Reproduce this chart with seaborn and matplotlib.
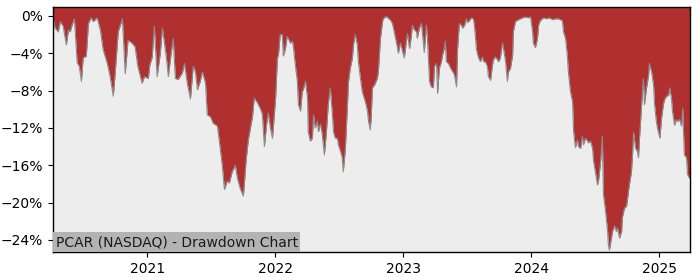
import matplotlib
matplotlib.use("Agg")
import matplotlib.pyplot as plt
import matplotlib.dates as mdates
from matplotlib.ticker import FuncFormatter
import seaborn as sns
import pandas as pd

dates_2020 = ["2020-04-08", "2020-04-13", "2020-04-22", "2020-04-28", "2020-05-06", "2020-05-15",
              "2020-05-21", "2020-05-26", "2020-06-01", "2020-06-07", "2020-06-15", "2020-06-21",
              "2020-06-27", "2020-07-02", "2020-07-11", "2020-07-17", "2020-07-25", "2020-07-31",
              "2020-08-11", "2020-08-20", "2020-08-28", "2020-09-09", "2020-09-17", "2020-09-26",
              "2020-10-02", "2020-10-10", "2020-10-22", "2020-10-30", "2020-11-07", "2020-11-18",
              "2020-11-27", "2020-12-05", "2020-12-17", "2020-12-24"]
dd_2020 = [-0.4, -1.3, -1.7, -0.6, -1.1, -3.1, -1.5, -1.7, -0.9, -0.3, -5.0, -5.4,
           -7.0, -4.5, -4.3, -0.8, -0.2, -0.6, -0.2, -1.5, -3.6, -5.1, -6.5, -8.6,
           -5.8, -1.7, -0.3, -6.2, -2.6, -2.9, -3.3, -5.4, -7.2, -6.5]

dates_2021 = ["2021-01-04", "2021-01-08", "2021-01-15", "2021-01-21", "2021-01-29", "2021-02-07",
              "2021-02-13", "2021-02-24", "2021-03-02", "2021-03-10", "2021-03-16", "2021-03-22",
              "2021-03-30", "2021-04-11", "2021-04-17", "2021-04-25", "2021-05-04", "2021-05-12",
              "2021-05-18", "2021-05-24", "2021-06-01", "2021-06-07", "2021-06-16", "2021-06-21",
              "2021-06-30", "2021-07-08", "2021-07-20", "2021-07-25", "2021-08-03", "2021-08-09",
              "2021-08-17", "2021-08-23", "2021-08-31", "2021-09-09", "2021-09-15", "2021-09-23",
              "2021-10-02", "2021-10-10", "2021-10-16", "2021-10-28", "2021-11-02", "2021-11-11",
              "2021-11-19", "2021-11-25", "2021-12-01", "2021-12-07", "2021-12-12", "2021-12-18",
              "2021-12-24"]
dd_2021 = [-6.7, -5.3, -4.4, -1.1, -6.5, -4.0, -1.3, -4.3, -6.5, -4.0, -2.4, -6.7,
           -6.8, -6.1, -5.1, -7.2, -8.9, -5.4, -5.9, -7.9, -7.0, -6.0, -7.2, -10.6,
           -10.8, -11.5, -11.8, -13.3, -16.1, -18.6, -17.7, -17.9, -16.7, -16.0, -17.4, -18.5,
           -19.3, -15.4, -13.3, -10.8, -8.8, -9.3, -9.9, -10.5, -14.0, -11.7, -10.4, -12.0,
           -13.1]

dates_2022 = ["2022-01-02", "2022-01-07", "2022-01-10", "2022-01-15", "2022-01-21", "2022-01-24",
              "2022-01-30", "2022-02-04", "2022-02-07", "2022-02-13", "2022-02-19", "2022-02-22",
              "2022-02-27", "2022-03-05", "2022-03-08", "2022-03-14", "2022-03-19", "2022-03-22",
              "2022-03-28", "2022-04-03", "2022-04-05", "2022-04-11", "2022-04-17", "2022-04-20",
              "2022-04-25", "2022-05-01", "2022-05-04", "2022-05-10", "2022-05-15", "2022-05-18",
              "2022-05-21", "2022-05-27", "2022-06-01", "2022-06-07", "2022-06-13", "2022-06-16",
              "2022-06-21", "2022-06-27", "2022-06-30", "2022-07-06", "2022-07-11", "2022-07-14",
              "2022-07-20", "2022-07-26", "2022-07-29", "2022-08-03", "2022-08-09", "2022-08-12",
              "2022-08-17", "2022-08-23", "2022-08-26", "2022-09-01", "2022-09-06", "2022-09-09",
              "2022-09-15", "2022-09-21", "2022-09-24", "2022-09-29", "2022-10-02", "2022-10-05",
              "2022-10-11", "2022-10-19", "2022-10-22", "2022-10-28", "2022-11-03", "2022-11-05",
              "2022-11-11", "2022-11-17", "2022-11-20", "2022-11-25", "2022-12-01", "2022-12-04",
              "2022-12-10", "2022-12-15", "2022-12-18", "2022-12-24", "2022-12-30"]
dd_2022 = [-8.8, -4.5, -4.2, -2.0, -2.0, -4.3, -3.5, -2.2, -2.4, -2.9, -2.7, -3.4,
           -5.2, -7.0, -9.5, -10.2, -8.1, -7.9, -7.0, -8.8, -12.4, -13.4, -13.1, -10.6,
           -12.0, -11.3, -12.4, -11.6, -12.7, -13.8, -14.9, -12.4, -9.5, -7.7, -10.6, -12.4,
           -13.1, -13.1, -13.8, -14.5, -15.2, -16.7, -14.2, -9.5, -7.0, -5.6, -4.5, -3.1,
           -2.0, -3.1, -4.9, -6.7, -8.1, -8.5, -9.2, -10.2, -11.3, -12.2, -10.6, -7.7,
           -7.4, -6.7, -6.0, -2.4, -0.6, -0.3, -0.1, -0.1, -0.3, -0.4, -0.8, -1.3,
           -2.4, -3.3, -4.0, -2.9, -3.8]

dates_2023 = ["2023-01-02", "2023-01-04", "2023-01-10", "2023-01-13", "2023-01-19", "2023-01-24",
              "2023-01-27", "2023-02-02", "2023-02-08", "2023-02-10", "2023-02-16", "2023-02-22",
              "2023-02-25", "2023-03-02", "2023-03-08", "2023-03-11", "2023-03-17", "2023-03-22",
              "2023-03-28", "2023-03-31", "2023-04-06", "2023-04-09", "2023-04-14", "2023-04-20",
              "2023-04-23", "2023-04-28", "2023-05-01", "2023-05-04", "2023-05-10", "2023-05-16",
              "2023-05-21", "2023-05-27", "2023-06-02", "2023-06-05", "2023-06-10", "2023-06-16",
              "2023-06-19", "2023-06-25", "2023-06-30", "2023-07-03", "2023-07-09", "2023-07-14",
              "2023-07-20", "2023-07-23", "2023-07-29", "2023-08-03", "2023-08-09", "2023-08-15",
              "2023-08-18", "2023-08-23", "2023-08-29", "2023-09-01", "2023-09-07", "2023-09-12",
              "2023-09-15", "2023-09-21", "2023-09-27", "2023-09-30", "2023-10-05", "2023-10-11",
              "2023-10-14", "2023-10-20", "2023-10-25", "2023-10-28", "2023-11-03", "2023-11-09",
              "2023-11-11", "2023-11-17", "2023-11-26", "2023-12-07", "2023-12-16", "2023-12-24",
              "2023-12-30"]
dd_2023 = [-4.2, -4.5, -2.7, -1.9, -3.5, -2.2, -1.0, -1.5, -1.7, -2.4, -1.3, -0.8,
           -2.0, -3.9, -1.0, -2.4, -7.0, -7.6, -7.7, -5.4, -5.1, -8.3, -5.6, -4.9,
           -4.2, -3.5, -2.7, -4.9, -5.1, -5.6, -5.9, -6.3, -7.6, -3.5, -0.8, -1.0,
           -1.3, -1.0, -0.3, -0.7, -0.5, -0.2, -0.3, -1.0, -3.6, -4.4, -4.9, -4.4,
           -4.9, -4.9, -5.4, -6.5, -6.9, -5.4, -4.7, -4.4, -4.7, -4.9, -4.5, -2.9,
           -3.5, -4.9, -7.0, -6.0, -5.6, -4.2, -1.7, -0.6, -0.4, -0.2, -0.1, -0.2,
           -0.1]

dates_2024 = ["2024-01-05", "2024-01-07", "2024-01-13", "2024-01-19", "2024-01-22", "2024-01-27",
              "2024-02-05", "2024-02-14", "2024-02-22", "2024-03-02", "2024-03-10", "2024-03-19",
              "2024-03-24", "2024-03-30", "2024-04-02", "2024-04-08", "2024-04-13", "2024-04-16",
              "2024-04-22", "2024-04-28", "2024-05-01", "2024-05-06", "2024-05-12", "2024-05-15",
              "2024-05-21", "2024-05-26", "2024-05-29", "2024-06-04", "2024-06-10", "2024-06-12",
              "2024-06-18", "2024-06-24", "2024-06-27", "2024-07-02", "2024-07-08", "2024-07-11",
              "2024-07-17", "2024-07-22", "2024-07-25", "2024-07-31", "2024-08-06", "2024-08-08",
              "2024-08-11", "2024-08-17", "2024-08-20", "2024-08-26", "2024-08-31", "2024-09-03",
              "2024-09-09", "2024-09-15", "2024-09-17", "2024-09-23", "2024-09-29", "2024-10-02",
              "2024-10-07", "2024-10-13", "2024-10-16", "2024-10-19", "2024-10-25", "2024-10-30",
              "2024-11-02", "2024-11-05", "2024-11-11", "2024-11-16", "2024-11-19", "2024-11-25",
              "2024-12-01", "2024-12-03", "2024-12-09", "2024-12-15", "2024-12-18", "2024-12-23",
              "2024-12-26"]
dd_2024 = [-1.7, -2.9, -3.4, -2.4, -1.0, -0.5, -0.2, -0.3, -0.2, -0.4, -0.3, -0.3,
           -0.4, -0.5, -1.7, -2.4, -4.2, -6.0, -8.1, -9.2, -12.4, -14.1, -13.3, -14.0,
           -14.2, -12.9, -13.8, -13.1, -13.4, -13.6, -13.4, -14.2, -15.6, -16.7, -18.1, -17.7,
           -15.6, -12.9, -19.1, -20.9, -23.1, -24.5, -25.1, -23.8, -23.1, -22.5, -23.1, -22.7,
           -23.8, -23.1, -21.6, -20.6, -20.4, -19.5, -18.1, -16.7, -14.9, -12.5, -14.2, -14.5,
           -15.2, -13.1, -9.5, -6.7, -9.5, -7.7, -6.3, -5.1, -5.9, -7.4, -9.5, -11.3,
           -12.0]

dates_2025 = ["2025-01-02", "2025-01-07", "2025-01-12", "2025-01-15", "2025-01-21", "2025-01-27",
              "2025-01-30", "2025-02-04", "2025-02-07", "2025-02-13", "2025-02-18", "2025-02-21",
              "2025-02-27", "2025-03-05", "2025-03-08", "2025-03-13", "2025-03-19", "2025-03-22",
              "2025-03-28"]
dd_2025 = [-13.1, -10.9, -9.5, -9.0, -8.6, -8.5, -7.7, -8.8, -10.2, -11.7, -11.1, -11.3,
           -11.1, -11.8, -9.9, -14.9, -15.2, -17.0, -17.4]

y_ticks = [0, -4, -8, -12, -16, -20, -24]
title_text = "PCAR (NASDAQ) - Drawdown Chart"

df = pd.DataFrame({
    "date": pd.to_datetime(dates_2020 + dates_2021 + dates_2022 + dates_2023 + dates_2024 + dates_2025),
    "drawdown": dd_2020 + dd_2021 + dd_2022 + dd_2023 + dd_2024 + dd_2025,
})

sns.set_style("white")
plt.rcParams["font.family"] = ["DejaVu Sans"]

fig = plt.figure(figsize=(7, 2.8), dpi=100)
ax = fig.add_axes([0.0757, 0.10, 0.91, 0.875])
ax.set_facecolor("#EDEDED")

y_top = 0.96
y_bottom = -25.3
ax.fill_between(df["date"], df["drawdown"], y_top, color="#B02F2F", linewidth=0)
sns.lineplot(data=df, x="date", y="drawdown", ax=ax, color="#8C8C8C", linewidth=0.8)

ax.set_xlim(pd.Timestamp("2020-04-07"), pd.Timestamp("2025-03-29"))
ax.set_ylim(y_bottom, y_top)
ax.set_yticks(y_ticks)
ax.yaxis.set_major_formatter(FuncFormatter(lambda v, p: f"{int(round(v))}%".replace("-", "\u2212")))
ax.xaxis.set_major_locator(mdates.YearLocator())
ax.xaxis.set_major_formatter(mdates.DateFormatter("%Y"))
ax.set_xlabel("")
ax.set_ylabel("")
ax.tick_params(axis="both", labelsize=10, length=3.5, width=0.8, direction="out",
               left=True, bottom=True, colors="black")
for s in ax.spines.values():
    s.set_visible(True)
    s.set_color("black")
    s.set_linewidth(1.0)

ax.text(0.004, 0.012, title_text, transform=ax.transAxes, fontsize=10,
        color="#1a1a1a", ha="left", va="bottom",
        bbox=dict(boxstyle="square,pad=0.2", facecolor="#B3B3B3", edgecolor="none"))

fig.savefig("out.png", dpi=100)
